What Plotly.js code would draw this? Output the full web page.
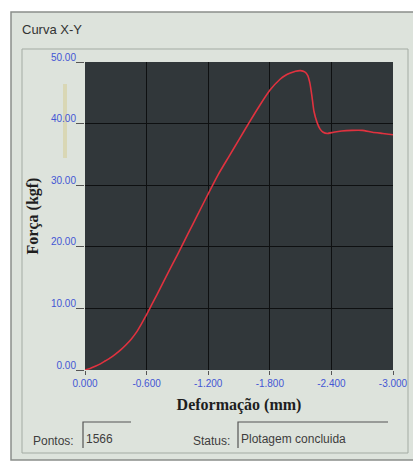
<!DOCTYPE html>
<html>
<head>
<meta charset="utf-8">
<script src="https://cdn.plot.ly/plotly-3.0.1.min.js"></script>
<style>
html,body{margin:0;padding:0;background:#ffffff;}
#chart{width:413px;height:463px;}
</style>
</head>
<body>
<div id="chart"></div>
<script>
// Data
var deformacao = [0, -0.05, -0.1, -0.15, -0.2, -0.25, -0.3, -0.35, -0.4, -0.45, -0.5, -0.55, -0.6, -0.65, -0.7, -0.8, -0.9, -1.0, -1.1, -1.2, -1.3, -1.4, -1.5, -1.6, -1.7, -1.8, -1.9, -1.95, -2.0, -2.05, -2.1, -2.14, -2.17, -2.19, -2.21, -2.23, -2.26, -2.29, -2.32, -2.36, -2.42, -2.5, -2.6, -2.7, -2.8, -2.9, -3.0];
var forca = [0, 0.25, 0.6, 1.0, 1.5, 2.0, 2.6, 3.3, 4.1, 5.0, 6.1, 7.5, 9.0, 10.6, 12.2, 15.5, 18.7, 22.0, 25.3, 28.6, 31.8, 34.6, 37.4, 40.2, 42.9, 45.4, 47.2, 47.8, 48.2, 48.5, 48.6, 48.4, 47.8, 46.6, 44.5, 42.0, 40.2, 39.1, 38.6, 38.4, 38.6, 38.8, 38.9, 38.9, 38.6, 38.4, 38.2];
var xTickVals = [0, -0.6, -1.2, -1.8, -2.4, -3.0];
var xTickText = ["0.000", "-0.600", "-1.200", "-1.800", "-2.400", "-3.000"];
var yTickVals = [0, 10, 20, 30, 40, 50];
var yTickText = ["0.00", "10.00", "20.00", "30.00", "40.00", "50.00"];
var windowTitle = "Curva X-Y";
var xTitle = "Deformação (mm)";
var yTitle = "Força (kgf)";
var pontosLabel = "Pontos:";
var pontosValue = "1566";
var statusLabel = "Status:";
var statusValue = "Plotagem concluida";

// pixel -> paper helpers (plot area 85..393 x 62..370)
var L = 85, T = 62, W = 308, H = 308;
function px(X){ return (X - L) / W; }
function py(Y){ return (T + H - Y) / H; }

var uiFont = {family: "Liberation Sans, Arial, sans-serif", size: 12, color: "#3d3d3d"};
var tickFont = {family: "Liberation Sans, Arial, sans-serif", size: 10, color: "#4356d4"};

var trace = {
  x: deformacao, y: forca, type: "scatter", mode: "lines",
  line: {color: "#e0323f", width: 1.6, shape: "spline", smoothing: 0.5},
  hoverinfo: "skip"
};

var shapes = [
  // window frame
  {type: "rect", xref: "paper", yref: "paper", x0: px(11), x1: px(422), y0: py(460), y1: py(12),
   fillcolor: "#dde3dc", line: {color: "#8a8f8a", width: 1.5}, layer: "below"},
  // group box
  {type: "rect", xref: "paper", yref: "paper", x0: px(22), x1: px(408), y0: py(453), y1: py(49),
   fillcolor: "rgba(0,0,0,0)", line: {color: "#a3aba3", width: 1}, layer: "below"},
  // plot background
  {type: "rect", xref: "paper", yref: "paper", x0: 0, x1: 1, y0: 0, y1: 1,
   fillcolor: "#31373a", line: {width: 0}, layer: "below"},
  // faint slider artifact
  {type: "rect", xref: "paper", yref: "paper", x0: px(63), x1: px(67), y0: py(158), y1: py(84),
   fillcolor: "rgba(214,205,150,0.55)", line: {width: 0}, layer: "below"},
  // Pontos edit box (sunken: top + left edges)
  {type: "path", xref: "paper", yref: "paper",
   path: "M " + px(83) + "," + py(448) + " L " + px(83) + "," + py(422) + " L " + px(131) + "," + py(422),
   line: {color: "#555", width: 1.2}},
  // Status edit box
  {type: "path", xref: "paper", yref: "paper",
   path: "M " + px(238) + "," + py(448) + " L " + px(238) + "," + py(422) + " L " + px(388) + "," + py(422),
   line: {color: "#555", width: 1.2}}
];

var annotations = [
  {text: windowTitle, xref: "paper", yref: "paper", x: px(20), y: py(30), xanchor: "left", yanchor: "middle",
   showarrow: false, font: {family: "Liberation Sans, Arial, sans-serif", size: 13, color: "#333"}},
  {text: pontosLabel, xref: "paper", yref: "paper", x: px(31), y: py(441), xanchor: "left", yanchor: "middle",
   showarrow: false, font: uiFont},
  {text: pontosValue, xref: "paper", yref: "paper", x: px(84), y: py(439), xanchor: "left", yanchor: "middle",
   showarrow: false, font: uiFont},
  {text: statusLabel, xref: "paper", yref: "paper", x: px(191), y: py(441), xanchor: "left", yanchor: "middle",
   showarrow: false, font: uiFont},
  {text: statusValue, xref: "paper", yref: "paper", x: px(239), y: py(439), xanchor: "left", yanchor: "middle",
   showarrow: false, font: uiFont}
];

var layout = {
  width: 413, height: 463,
  margin: {l: L, r: 413 - L - W, t: T, b: 463 - T - H, pad: 0},
  paper_bgcolor: "#ffffff",
  plot_bgcolor: "#31373a",
  showlegend: false,
  xaxis: {
    range: [0, -3], tickvals: xTickVals, ticktext: xTickText,
    ticks: "outside", ticklen: 4, tickcolor: "#555", tickfont: tickFont,
    showgrid: true, gridcolor: "#0e1011", gridwidth: 1, zeroline: false,
    showline: false, fixedrange: true,
    title: {text: "<b>" + xTitle + "</b>", standoff: 10,
            font: {family: "Liberation Serif, Times New Roman, serif", size: 16, color: "#1e1e1e"}}
  },
  yaxis: {
    range: [0, 50], tickvals: yTickVals, ticktext: yTickText,
    ticks: "outside", ticklen: 8, tickcolor: "#555", tickfont: tickFont,
    ticklabelshift: -5, ticklabelstandoff: -2,
    showgrid: true, gridcolor: "#0e1011", gridwidth: 1, zeroline: false,
    showline: false, fixedrange: true,
    title: {text: "<b>" + yTitle + "</b>", standoff: 8,
            font: {family: "Liberation Serif, Times New Roman, serif", size: 16, color: "#1e1e1e"}}
  },
  shapes: shapes,
  annotations: annotations
};

Plotly.newPlot("chart", [trace], layout, {staticPlot: true, displayModeBar: false});
</script>
</body>
</html>
